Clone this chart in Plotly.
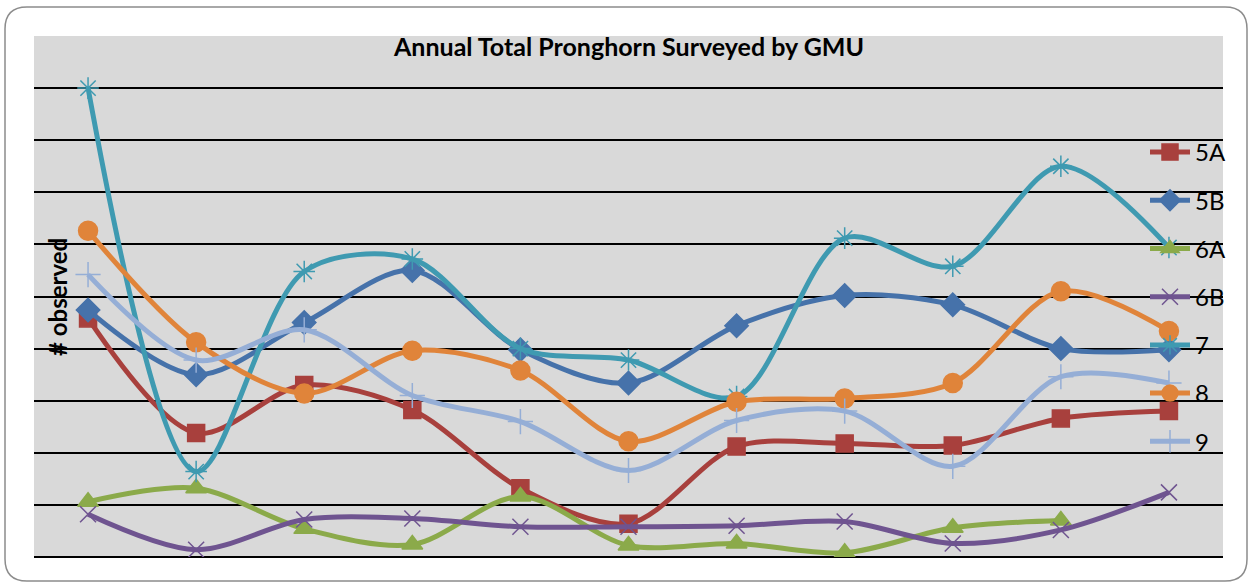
import plotly.graph_objects as go

# survey rounds (x labels are hidden on the original chart)
surveys = ['S1', 'S2', 'S3', 'S4', 'S5', 'S6', 'S7', 'S8', 'S9', 'S10', 'S11']

gmu_5a = [229, 119, 165, 141, 66, 32, 106, 109, 107, 133, 140]
gmu_5b = [237, 175, 225, 275, 199, 167, 222, 251, 242, 200, 199]
gmu_6a = [53, 66, 27, 12, 58, 11, 13, 4, 28, 35, None]
gmu_6b = [41, 7, 36, 37, 29, 29, 30, 34, 13, 26, 62]
gmu_7 = [450, 82, 274, 286, 200, 189, 154, 306, 279, 375, 297]
gmu_8 = [313, 206, 157, 198, 179, 111, 149, 152, 167, 255, 217]
gmu_9 = [271, 189, 218, 155, 130, 83, 131, 140, 87, 173, 167]

series = [
    ('5A', gmu_5a, '#A8403D', 'square', 17),
    ('5B', gmu_5b, '#4672AA', 'diamond', 18),
    ('6A', gmu_6a, '#8BAA4A', 'triangle-up', 18),
    ('6B', gmu_6b, '#6F5490', 'x-thin-open', 16),
    ('7', gmu_7, '#3F9AB1', 'asterisk-open', 18),
    ('8', gmu_8, '#E0843A', 'circle', 19),
    ('9', gmu_9, '#95AED6', 'cross-thin-open', 18),
]

fig = go.Figure()

for name, vals, col, sym, sz in series:
    fig.add_trace(go.Scatter(
        x=surveys, y=vals,
        mode='lines+markers',
        name=name,
        legendgroup=name,
        line=dict(color=col, width=5, shape='spline', smoothing=0.9),
        marker=dict(symbol=sym, size=sz, color=col,
                    line=dict(color=col, width=1.5)),
        connectgaps=False,
    ))

# plot area in pixels: x 34..1223, y 36..557
def px(x):
    return (x - 34) / 1189

def py(y):
    return (557 - y) / 521

x0, y0, x1, y1, r = 5, 7, 1247, 581, 22
border = (f"M {px(x0 + r)},{py(y0)} L {px(x1 - r)},{py(y0)} "
          f"Q {px(x1)},{py(y0)} {px(x1)},{py(y0 + r)} "
          f"L {px(x1)},{py(y1 - r)} Q {px(x1)},{py(y1)} {px(x1 - r)},{py(y1)} "
          f"L {px(x0 + r)},{py(y1)} Q {px(x0)},{py(y1)} {px(x0)},{py(y1 - r)} "
          f"L {px(x0)},{py(y0 + r)} Q {px(x0)},{py(y0)} {px(x0 + r)},{py(y0)} Z")

fig.add_shape(type='path', path=border, xref='paper', yref='paper',
              line=dict(color='#8C8C8C', width=1.5), layer='below')

fig.add_annotation(x=px(628), y=py(46), xref='paper', yref='paper',
                   text='<b>Annual Total Pronghorn Surveyed by GMU</b>',
                   showarrow=False, xanchor='center', yanchor='middle',
                   font=dict(size=25, color='black', family='Lato'))

fig.add_annotation(x=px(57), y=py(297), xref='paper', yref='paper',
                   text='<b># observed</b>', textangle=-90,
                   showarrow=False, xanchor='center', yanchor='middle',
                   font=dict(size=24, color='black', family='Lato'))

fig.update_layout(
    autosize=False,
    width=1250,
    height=583,
    margin=dict(l=34, r=27, t=36, b=26),
    paper_bgcolor='white',
    plot_bgcolor='#D9D9D9',
    showlegend=True,

    legend=dict(
        x=px(1145), y=py(130),
        xanchor='left', yanchor='top',
        bgcolor='rgba(0,0,0,0)',
        traceorder='grouped',
        tracegroupgap=14,
        font=dict(size=24, color='black', family='Lato'),
        itemwidth=40,
    ),

    xaxis=dict(
        showticklabels=False,
        ticks='',
        showgrid=False,
        range=[-0.5, 10.5],
        showline=False,
        zeroline=False,
    ),

    yaxis=dict(
        range=[0, 500],
        dtick=50,
        showticklabels=False,
        ticks='',
        showgrid=True,
        gridcolor='black',
        gridwidth=2,
        zeroline=True,
        zerolinecolor='black',
        zerolinewidth=2,
        showline=False,
    ),

    font=dict(family='Lato', color='black'),
)

# drop the browser's default 8px body margin so the figure sits at the page corner
fig.write_html("out.html", config={'displayModeBar': False},
               post_script="document.body.style.margin='0';")
